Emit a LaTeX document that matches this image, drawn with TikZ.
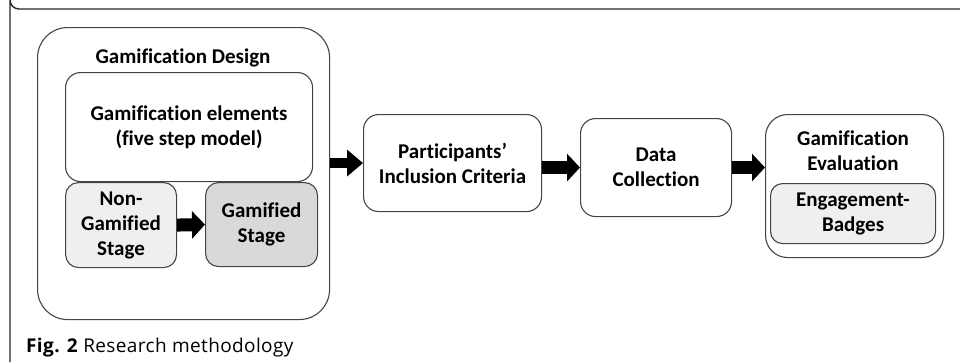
\documentclass[tikz,border=0pt]{standalone}
\usepackage{fontspec}
\setmainfont{Carlito}[RawFeature=-liga]
\newfontfamily\capfont{Open Sans}[LetterSpace=2]
\usetikzlibrary{arrows.meta}
\definecolor{boxline}{HTML}{454545}
\definecolor{lightfill}{HTML}{EFEFEF}
\definecolor{midfill}{HTML}{D9D9D9}
\begin{document}
\begin{tikzpicture}[x=1pt,y=-1pt,
  box/.style={draw=boxline, line width=1.1pt, anchor=north west, inner sep=0pt,
    align=center, font=\fontsize{21}{25}\selectfont\bfseries},
  label/.style={inner sep=0pt, align=center, font=\fontsize{21}{25}\selectfont\bfseries},
  blockarrow/.style={line width=10pt, -{Triangle[width=26pt,length=16pt]}},
  smallarrow/.style={line width=13pt, -{Triangle[width=27pt,length=13pt]}}]
  \useasboundingbox (0,0) rectangle (960,362);
  % figure frame
  \draw[line width=1.4pt, color=black!85] (960,9) -- (19,9) arc[start angle=90, end angle=180, radius=9] -- (10,362);
  % gamification design group
  \node[box, rounded corners=30pt, minimum width=292pt, minimum height=292pt] (design) at (37,27) {};
  \node[label] (designtitle) at (183,58) {Gamification Design};
  \node[box, rounded corners=15pt, minimum width=247pt, minimum height=109pt] (elements) at (65,72)
    {Gamification elements\\(five step model)};
  \node[box, fill=lightfill, rounded corners=13pt, minimum width=111pt, minimum height=85pt] (nongam) at (65,182)
    {Non-\\Gamified\\Stage};
  \node[box, fill=midfill, rounded corners=13pt, minimum width=112pt, minimum height=84pt] (gam) at (205,182)
    {Gamified\\Stage};
  % main flow
  \node[box, rounded corners=15pt, minimum width=178pt, minimum height=97pt] (part) at (363,114)
    {Participants’\\Inclusion Criteria};
  \node[box, rounded corners=15pt, minimum width=151pt, minimum height=98pt] (data) at (580,118)
    {Data\\Collection};
  \node[box, rounded corners=22pt, minimum width=178pt, minimum height=143pt] (eval) at (765,114) {};
  \node[label] (evaltitle) at (853,150.5) {Gamification\\Evaluation};
  \node[box, fill=lightfill, rounded corners=12pt, minimum width=165pt, minimum height=60pt] (badges) at (770,183)
    {Engagement-\\Badges};
  % connectors
  \draw[smallarrow] (nongam.east) -- (gam.west);
  \draw[blockarrow] (design.east |- part.west) -- (part.west);
  \draw[smallarrow] (part.east |- data.west) -- (data.west);
  \draw[smallarrow] (data.east) -- (data.east -| eval.west);
  % caption
  \node[anchor=base west, inner sep=0pt, font=\capfont\fontsize{19}{22}\selectfont] (caption) at (26,352)
    {\textbf{Fig. 2} Research methodology};
\end{tikzpicture}
\end{document}
